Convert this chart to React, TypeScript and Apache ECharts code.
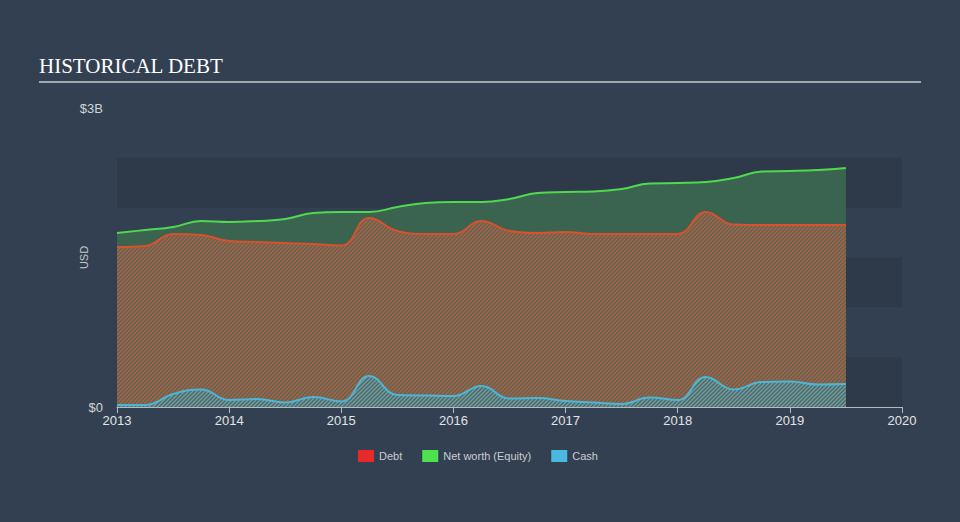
import React, { useEffect, useRef } from "react";
import * as echarts from "echarts";

// Quarterly sample dates (decimal years)
const dates = [
  2013.0, 2013.25, 2013.5, 2013.75, 2014.0, 2014.25, 2014.5, 2014.75,
  2015.0, 2015.25, 2015.5, 2015.75, 2016.0, 2016.25, 2016.5, 2016.75,
  2017.0, 2017.25, 2017.5, 2017.75, 2018.0, 2018.25, 2018.5, 2018.75,
  2019.0, 2019.25, 2019.5,
];

// Values in USD billions
const equity = [
  1.746, 1.776, 1.806, 1.866, 1.856, 1.866, 1.886, 1.946,
  1.956, 1.956, 2.007, 2.047, 2.057, 2.057, 2.087, 2.147,
  2.157, 2.162, 2.187, 2.242, 2.247, 2.257, 2.298, 2.363,
  2.368, 2.378, 2.398,
];
const debt = [
  1.605, 1.615, 1.736, 1.726, 1.665, 1.655, 1.645, 1.635,
  1.62, 1.896, 1.766, 1.736, 1.736, 1.866, 1.766, 1.746,
  1.756, 1.736, 1.736, 1.736, 1.736, 1.956, 1.831, 1.826,
  1.826, 1.826, 1.826,
];
const cash = [
  0.02, 0.02, 0.13, 0.176, 0.07, 0.08, 0.045, 0.1,
  0.055, 0.311, 0.12, 0.115, 0.11, 0.211, 0.085, 0.09,
  0.06, 0.045, 0.03, 0.095, 0.07, 0.301, 0.176, 0.251,
  0.256, 0.226, 0.231,
];

const xTicks = [2013, 2014, 2015, 2016, 2017, 2018, 2019, 2020];
const yTicks = [0, 3];
const bandEdges = [0, 0.5, 1.0, 1.5, 2.0, 2.5];
const seriesNames = ["Debt", "Net worth (Equity)", "Cash"];

function makePattern(bg: string, stripe: string, size: number, width: number) {
  const c = document.createElement("canvas");
  c.width = size;
  c.height = size;
  const ctx = c.getContext("2d")!;
  ctx.fillStyle = bg;
  ctx.fillRect(0, 0, size, size);
  ctx.strokeStyle = stripe;
  ctx.lineWidth = width;
  ctx.beginPath();
  for (let k = -1; k <= 1; k++) {
    ctx.moveTo(k * size - 1, size + 1);
    ctx.lineTo(k * size + size + 1, -1);
  }
  ctx.stroke();
  return c;
}

export default function App() {
  const ref = useRef<HTMLDivElement>(null);

  useEffect(() => {
    document.body.style.margin = "0";
    if (!ref.current) return;
    const chart = echarts.init(ref.current, undefined, { renderer: "svg" });

    const debtPattern = makePattern("#56675a", "#b65f3d", 4, 1.3);
    const cashPattern = makePattern("#4e6866", "#719ea2", 4, 1.4);

    const pair = (vals: number[]) => dates.map((d, i) => [d, vals[i] * 1e9]);

    const darkBands: any[] = [];
    for (let i = 0; i < bandEdges.length - 1; i += 2) {
      darkBands.push([
        { yAxis: bandEdges[i] * 1e9, xAxis: xTicks[0] },
        { yAxis: bandEdges[i + 1] * 1e9, xAxis: xTicks[xTicks.length - 1] },
      ]);
    }

    chart.setOption({
      animation: false,
      backgroundColor: "#334051",
      textStyle: { fontFamily: "Liberation Sans, Arial, sans-serif" },
      graphic: [
        {
          type: "text",
          left: 39,
          top: 55,
          style: {
            text: "HISTORICAL DEBT",
            fill: "#ffffff",
            font: "21px 'Liberation Serif', 'Times New Roman', serif",
          },
        },
        {
          type: "line",
          shape: { x1: 39, y1: 82, x2: 921, y2: 82 },
          style: { stroke: "#a3a8ae", lineWidth: 2 },
        },
      ],
      legend: {
        left: 358,
        top: 450,
        padding: 0,
        icon: "rect",
        itemWidth: 16,
        itemHeight: 12,
        itemGap: 20,
        textStyle: { color: "#c9cdd2", fontSize: 11 },
        data: [
          { name: seriesNames[0], itemStyle: { color: "#e8282b" } },
          { name: seriesNames[1], itemStyle: { color: "#4ee34e" } },
          { name: seriesNames[2], itemStyle: { color: "#4bb8df" } },
        ],
        selectedMode: false,
      },
      grid: { left: 117, right: 58, top: 108, bottom: 115 },
      xAxis: {
        type: "value",
        min: xTicks[0],
        max: xTicks[xTicks.length - 1],
        interval: 1,
        axisLine: { show: true, lineStyle: { color: "#b4bac2", width: 1 } },
        axisTick: { show: true, length: 6, lineStyle: { color: "#b4bac2" } },
        splitLine: { show: false },
        axisLabel: {
          color: "#e2e4e7",
          fontSize: 13,
          margin: 7,
          formatter: (v: number) => String(Math.round(v)),
        },
      },
      yAxis: {
        type: "value",
        min: yTicks[0],
        max: yTicks[1] * 1e9,
        interval: yTicks[1] * 1e9,
        name: "USD",
        nameLocation: "middle",
        nameRotate: 90,
        nameGap: 28,
        nameMoveOverlap: false,
        nameTextStyle: { color: "#c4c8cd", fontSize: 11 },
        axisLine: { show: false },
        axisTick: { show: false },
        splitLine: { show: false },
        axisLabel: {
          color: "#d0d3d7",
          fontSize: 13,
          margin: 14,
          formatter: (v: number) => (v === 0 ? "$0" : "$" + v / 1e9 + "B"),
        },
      },
      series: [
        {
          name: "bands",
          type: "line",
          data: [],
          silent: true,
          markArea: {
            silent: true,
            itemStyle: { color: "#2e3a49" },
            data: darkBands,
          },
        },
        {
          name: seriesNames[1],
          type: "line",
          data: pair(equity),
          smooth: 0.45,
          symbol: "none",
          lineStyle: { color: "#4fd94f", width: 2 },
          itemStyle: { color: "#4fd94f" },
          areaStyle: { color: "#3a6450", opacity: 1 },
        },
        {
          name: seriesNames[0],
          type: "line",
          data: pair(debt),
          smooth: 0.45,
          symbol: "none",
          lineStyle: { color: "#d6512c", width: 2 },
          itemStyle: { color: "#d6512c" },
          areaStyle: { color: { image: debtPattern, repeat: "repeat" }, opacity: 1 },
        },
        {
          name: seriesNames[2],
          type: "line",
          data: pair(cash),
          smooth: 0.45,
          symbol: "none",
          lineStyle: { color: "#4bb6d8", width: 2 },
          itemStyle: { color: "#4bb6d8" },
          areaStyle: { color: { image: cashPattern, repeat: "repeat" }, opacity: 1 },
        },
      ],
    });

    return () => chart.dispose();
  }, []);

  return <div ref={ref} style={{ width: 960, height: 522 }} />;
}
